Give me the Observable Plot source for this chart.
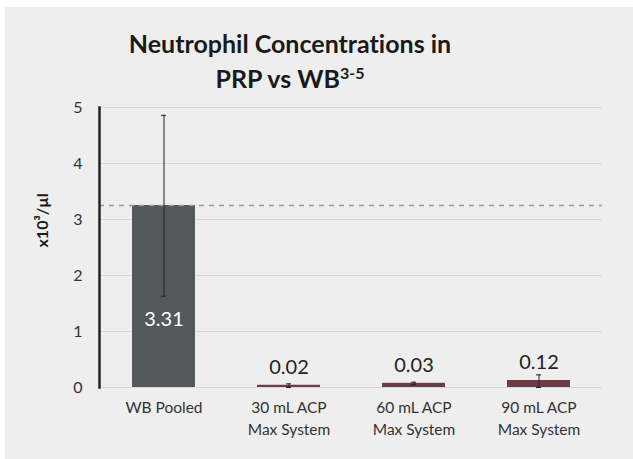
<!DOCTYPE html>
<html>
<head>
<meta charset="utf-8">
<script src="https://cdn.jsdelivr.net/npm/d3@7"></script>
<script src="https://cdn.jsdelivr.net/npm/@observablehq/plot@0.6"></script>
<style>
  html, body { margin: 0; padding: 0; background: #fff; }
  #wrap { position: relative; width: 633px; height: 459px; overflow: hidden; }
  #bg { position: absolute; left: 5px; top: 7px; width: 628px; height: 452px; background: #eeeeee; }
  #title { position: absolute; left: 0; top: 26px; width: 580px; text-align: center;
    font-family: Lato, "Open Sans", sans-serif; font-weight: 700; font-size: 25px; line-height: 35px; color: #1a1a1a;
    font-variant-ligatures: none; font-feature-settings: "liga" 0; }
  #title sup { font-size: 16px; vertical-align: 9px; line-height: 0; }
  #chart { position: absolute; left: 0; top: 95px; }
</style>
</head>
<body>
<div id="wrap">
  <div id="bg"></div>
  <div id="title">Neutrophil Concentrations in<br>PRP vs WB<sup>3-5</sup></div>
  <div id="chart"></div>
</div>
<script>
const categories = ["WB Pooled", "30 mL ACP\nMax System", "60 mL ACP\nMax System", "90 mL ACP\nMax System"];
const barValues = [3.25, 0.04, 0.075, 0.125];
const valueLabels = ["3.31", "0.02", "0.03", "0.12"];
const errLow = [1.63, 0.0, 0.05, 0.0];
const errHigh = [4.86, 0.065, 0.095, 0.225];
const yTicks = [0, 1, 2, 3, 4, 5];
const referenceLine = 3.25;
const yLabel = "x10³/µl";
const colors = ["#53585a", "#6b3c41", "#6b3c41", "#6b3c41"];

const data = categories.map((c, i) => ({
  cat: c, value: barValues[i], label: valueLabels[i], lo: errLow[i], hi: errHigh[i], color: colors[i]
}));
const wb = data.slice(0, 1);
const others = data.slice(1);

const font = "Lato, 'Open Sans', sans-serif";

const chart = Plot.plot({
  width: 633,
  height: 364,
  marginLeft: 99,
  marginRight: 31,
  marginTop: 12,
  marginBottom: 72,
  style: { background: "transparent", fontFamily: font, color: "#333" },
  x: { domain: categories, paddingInner: 0.5, paddingOuter: 0.25, label: null },
  y: { domain: [0, 5], label: null },
  marks: [
    Plot.ruleY(yTicks, { stroke: "#d8d8d8", strokeWidth: 1.2 }),
    Plot.axisY({ ticks: yTicks, tickFormat: "d", tickSize: 0, tickPadding: 17, fontSize: 16, fill: "#333", label: null }),
    Plot.axisX({ tickSize: 0, tickPadding: 10, fontSize: 15.5, fill: "#333", lineHeight: 1.4, label: null }),
    Plot.barY(data, { x: "cat", y: "value", fill: "color" }),
    Plot.ruleY([referenceLine], { stroke: "#999", strokeWidth: 1.5, strokeDasharray: "5,5" }),
    Plot.ruleX(data, { x: "cat", y1: "lo", y2: "hi", stroke: "#222", strokeWidth: 1 }),
    Plot.tickY(data, { x: "cat", y: "lo", stroke: "#222", strokeWidth: 1, insetLeft: 29, insetRight: 29 }),
    Plot.tickY(data, { x: "cat", y: "hi", stroke: "#222", strokeWidth: 1, insetLeft: 29, insetRight: 29 }),
    Plot.frame({ anchor: "left", stroke: "#222", strokeWidth: 2.5 }),
    Plot.text(wb, { x: "cat", text: "label", frameAnchor: "bottom", dy: -62, fill: "#fff", fontSize: 20, fontWeight: 400 }),
    Plot.text(others, { x: "cat", y: "value", text: "label", dy: -18, fill: "#222", fontSize: 20, fontWeight: 400 }),
    Plot.text([yLabel], { frameAnchor: "left", dx: -57, rotate: -90, fontSize: 16, fontWeight: 700, fill: "#1a1a1a" })
  ]
});
document.getElementById("chart").appendChild(chart);
</script>
</body>
</html>
